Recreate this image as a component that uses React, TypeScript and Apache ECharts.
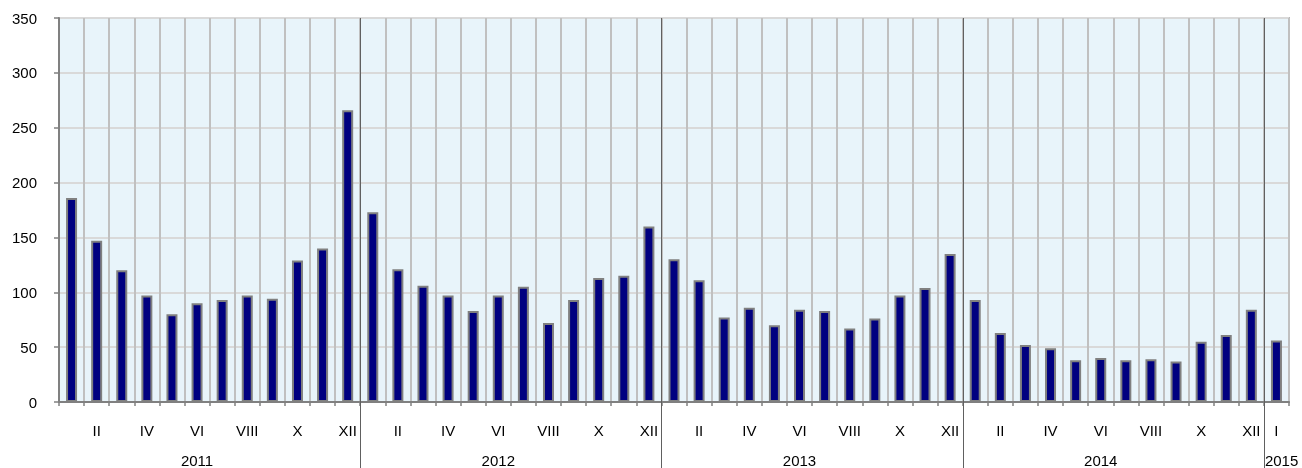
import React, { useEffect, useRef } from 'react';
import * as echarts from 'echarts';

const years = ['2011', '2012', '2013', '2014', '2015'];
const romanMonths = ['I', 'II', 'III', 'IV', 'V', 'VI', 'VII', 'VIII', 'IX', 'X', 'XI', 'XII'];
const shownMonthLabels = ['II', 'IV', 'VI', 'VIII', 'X', 'XII'];

const values2011 = [186, 147, 120, 97, 80, 90, 93, 97, 94, 129, 140, 266];
const values2012 = [173, 121, 106, 97, 83, 97, 105, 72, 93, 113, 115, 160];
const values2013 = [130, 111, 77, 86, 70, 84, 83, 67, 76, 97, 104, 135];
const values2014 = [93, 63, 52, 49, 38, 40, 38, 39, 37, 55, 61, 84];
const values2015 = [56];
const valuesByYear = [values2011, values2012, values2013, values2014, values2015];

const yMin = 0;
const yMax = 350;
const yInterval = 50;

const FONT = 'Arial, "Liberation Sans", sans-serif';

export default function App() {
  const ref = useRef<HTMLDivElement>(null);

  useEffect(() => {
    if (!ref.current) return;
    const chart = echarts.init(ref.current, undefined, { renderer: 'svg' });

    const categories: string[] = [];
    const data: number[] = [];
    const yearStart: number[] = [];
    valuesByYear.forEach((vals, yi) => {
      yearStart.push(categories.length);
      vals.forEach((v, m) => {
        categories.push(`${romanMonths[m]} ${years[yi]}`);
        data.push(v);
      });
    });

    chart.setOption({
      animation: false,
      grid: {
        left: 59,
        top: 18,
        right: 13,
        bottom: 66,
        show: true,
        backgroundColor: '#E8F4FA',
        borderColor: '#808080',
        borderWidth: 1.5,
      },
      xAxis: {
        type: 'category',
        data: categories,
        boundaryGap: true,
        axisLine: { lineStyle: { color: '#808080', width: 2 } },
        axisTick: { show: true, interval: 0, length: 4, lineStyle: { color: '#808080', width: 1.5 } },
        splitLine: { show: true, interval: 0, lineStyle: { color: '#C0C0C0', width: 2 } },
        axisLabel: {
          interval: 0,
          margin: 21,
          color: '#000',
          fontSize: 15,
          fontFamily: FONT,
          formatter: (value: string) => {
            const [m, y] = value.split(' ');
            if (y === years[years.length - 1]) return m;
            return shownMonthLabels.includes(m) ? m : '';
          },
        },
      },
      yAxis: {
        type: 'value',
        min: yMin,
        max: yMax,
        interval: yInterval,
        axisLine: { show: true, lineStyle: { color: '#808080', width: 2 } },
        axisTick: { show: true, length: 5, lineStyle: { color: '#808080', width: 1.5 } },
        splitLine: { show: true, lineStyle: { color: '#D9D9D9', width: 2 } },
        axisLabel: { margin: 22, color: '#000', fontSize: 15, fontFamily: FONT },
      },
      series: [
        {
          type: 'bar',
          data,
          barWidth: 11,
          itemStyle: { color: '#000080', borderColor: '#808080', borderWidth: 2 },
        },
      ],
    });

    const px = (i: number) => chart.convertToPixel({ xAxisIndex: 0 }, i) as number;
    const band = px(1) - px(0);
    const top = chart.convertToPixel({ yAxisIndex: 0 }, yMax) as number;
    const bottom = 468;
    const graphics: any[] = [];
    yearStart.forEach((s, yi) => {
      if (s > 0) {
        const x = Math.round(px(s) - band / 2) + 0.5;
        graphics.push({
          type: 'line',
          z: 100,
          shape: { x1: x, y1: top, x2: x, y2: bottom },
          style: { stroke: '#606060', lineWidth: 1 },
        });
      }
      const count = valuesByYear[yi].length;
      const isLast = yi === years.length - 1;
      const mid = isLast ? px(s) - band / 2 + 1 : px(s + Math.floor((count - 1) / 2));
      graphics.push({
        type: 'text',
        z: 100,
        x: mid,
        y: 460,
        style: {
          text: years[yi],
          fill: '#000',
          fontSize: 15,
          fontFamily: FONT,
          textAlign: isLast ? 'left' : 'center',
          textVerticalAlign: 'middle',
        },
      });
    });
    chart.setOption({ graphic: graphics });

    return () => chart.dispose();
  }, []);

  return (
    <div
      ref={ref}
      style={{ position: 'fixed', left: 0, top: 0, width: 1302, height: 468 }}
    />
  );
}
